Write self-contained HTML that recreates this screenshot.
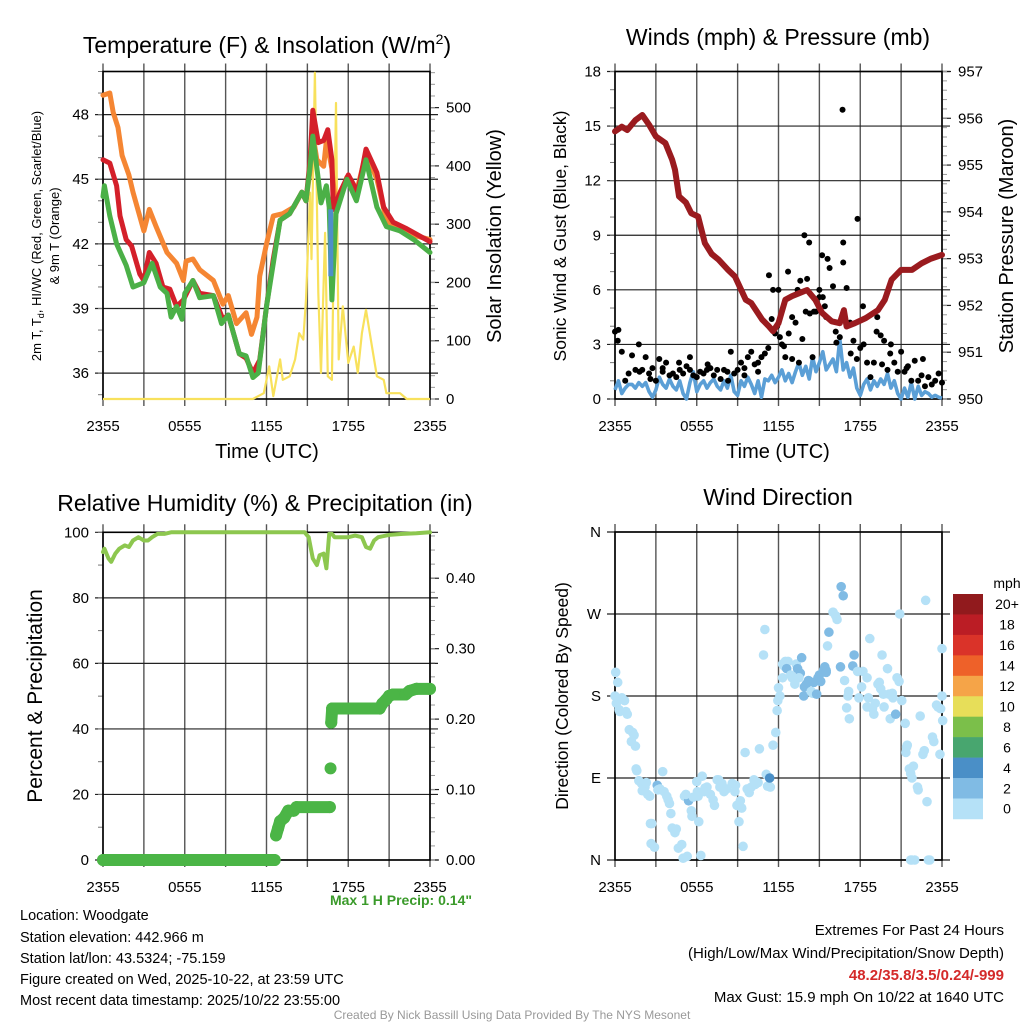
<!DOCTYPE html>
<html><head><meta charset="utf-8">
<style>
html,body{margin:0;padding:0;background:#fff;}
svg{display:block;font-family:"Liberation Sans",Arial,sans-serif;}
</style></head>
<body>
<svg id="chart" width="1024" height="1024" viewBox="0 0 1024 1024" xmlns="http://www.w3.org/2000/svg">
<rect width="1024" height="1024" fill="#fff"/>
<g id="g1"></g>
<g id="g2"></g>
<g id="g3"></g>
<g id="g4"></g>

<text x="267" y="53" font-size="23" text-anchor="middle">Temperature (F) &amp; Insolation (W/m<tspan font-size="14" dy="-9">2</tspan><tspan dy="9">)</tspan></text>
<text x="778" y="45" font-size="23" text-anchor="middle">Winds (mph) &amp; Pressure (mb)</text>
<text x="265" y="511" font-size="23" text-anchor="middle">Relative Humidity (%) &amp; Precipitation (in)</text>
<text x="778" y="505" font-size="23" text-anchor="middle">Wind Direction</text>

<text transform="translate(41,236) rotate(-90)" font-size="13" text-anchor="middle">2m T, T<tspan font-size="9" dy="3">d</tspan><tspan dy="-3">, HI/WC (Red, Green, Scarlet/Blue)</tspan></text>
<text transform="translate(59,236) rotate(-90)" font-size="13" text-anchor="middle">&amp; 9m T (Orange)</text>
<text transform="translate(501,236) rotate(-90)" font-size="20" text-anchor="middle">Solar Insolation (Yellow)</text>
<text transform="translate(566,236) rotate(-90)" font-size="17.5" text-anchor="middle">Sonic Wind &amp; Gust (Blue, Black)</text>
<text transform="translate(1013,236) rotate(-90)" font-size="20" text-anchor="middle">Station Pressure (Maroon)</text>
<text transform="translate(42,696) rotate(-90)" font-size="21" text-anchor="middle">Percent &amp; Precipitation</text>
<text transform="translate(568,696) rotate(-90)" font-size="17.5" text-anchor="middle">Direction (Colored By Speed)</text>
<text x="267" y="458" font-size="20" text-anchor="middle">Time (UTC)</text>
<text x="778" y="458" font-size="20" text-anchor="middle">Time (UTC)</text>

<text x="472" y="905" font-size="14" font-weight="bold" fill="#3a9a2a" text-anchor="end">Max 1 H Precip: 0.14"</text>
<g font-size="14.5">
<text x="20" y="920">Location: Woodgate</text>
<text x="20" y="942">Station elevation: 442.966 m</text>
<text x="20" y="963">Station lat/lon: 43.5324; -75.159</text>
<text x="20" y="984">Figure created on Wed, 2025-10-22, at 23:59 UTC</text>
<text x="20" y="1005">Most recent data timestamp: 2025/10/22 23:55:00</text>
</g>
<g font-size="15" text-anchor="end">
<text x="1004" y="935">Extremes For Past 24 Hours</text>
<text x="1004" y="958">(High/Low/Max Wind/Precipitation/Snow Depth)</text>
<text x="1004" y="980" fill="#d42a2a" font-weight="bold">48.2/35.8/3.5/0.24/-999</text>
<text x="1004" y="1002">Max Gust: 15.9 mph On 10/22 at 1640 UTC</text>
</g>
<text x="512" y="1019" font-size="12" fill="#999" text-anchor="middle">Created By Nick Bassill Using Data Provided By The NYS Mesonet</text>
</svg>
<script>
// ---------- DATA ----------
const timeTickLabels = ["2355","0555","1155","1755","2355"];
const timeTickHours = [0,6,12,18,24];

const orangeT = [0,0.5,0.75,1.1,1.4,1.9,2.2,3,3.4,3.9,4.7,5.4,5.9,6.1,6.6,7.1,8.1,8.8,9.2,9.8,10.5,10.9,11.3,11.5,12,12.5,13.2,14,14.6,14.9,15.2,15.4,15.7,16.2,16.4,16.8,17.1,17.9,18.6,19.3,20.1,20.8,21.8,22.8,24];
const orangeV = [48.9,49.0,48.1,47.4,46.1,45.2,44.4,42.6,43.6,42.8,41.6,41.1,40.3,41.2,41.3,40.8,40.3,39.2,39.6,38.3,38.8,37.8,38.6,40.5,42.0,43.3,43.4,43.7,44.4,44.0,45.4,47.1,45.9,45.6,46.8,45.5,43.6,45.1,44.4,46.2,45.0,43.1,42.6,42.4,42.2];
const redT = [0,0.5,1,1.25,1.7,2.1,2.7,3,3.4,3.9,4.4,4.9,5.4,5.9,6.6,7.1,8.1,8.8,9.2,10,10.5,11,11.5,12,12.5,13,13.7,14.6,14.9,15.2,15.4,15.8,16.2,16.5,16.8,16.9,17.4,18,18.7,19.3,20.1,20.6,21.3,22.3,24];
const redV = [45.9,45.75,44.7,43.3,42.2,41.9,40.6,40.3,41.6,41.1,40.0,39.9,39.1,39.4,40.3,39.7,39.6,38.5,38.7,36.9,36.7,36.0,36.6,39.1,41.3,43.1,43.4,44.4,44.0,45.9,48.2,46.7,46.8,47.3,45.9,43.6,44.4,45.2,44.4,46.4,45.3,43.7,43.0,42.7,42.1];
const greenT = [0,0.1,0.5,1,1.7,2.2,3,3.6,4.2,4.7,5,5.4,5.8,6,6.6,7.1,8.1,8.7,9.2,10,10.5,11,11.4,12,12.5,13,13.7,14.6,14.9,15.2,15.4,15.8,16,16.4,16.6,16.8,17.1,17.9,18.6,19.3,20.1,20.8,21.8,22.8,24];
const greenV = [44.2,44.7,43.3,42.0,41.0,40.0,40.2,41.1,40.0,39.7,38.6,39.1,38.5,39.7,40.3,39.5,39.6,38.3,38.7,36.9,36.8,35.8,36.0,39.1,41.1,43.1,43.4,44.4,44.0,45.6,47.0,45.0,43.9,44.7,43.7,39.4,43.4,45.0,44.0,45.9,43.7,42.8,42.6,42.2,41.6];
const chillT = [16.72,16.72];
const chillV = [43.6,40.5];
const solarT = [0,11,11.8,12.2,12.5,13,13.2,13.7,14.1,14.4,14.7,14.9,15.2,15.3,15.55,15.8,16,16.3,16.5,16.8,17.1,17.3,17.6,18,18.4,18.7,19,19.3,19.7,20.1,20.6,20.8,21.8,22.3,24];
const solarV = [0,0,10,56,5,68,33,39,68,113,102,171,354,240,560,182,45,285,39,33,508,68,159,62,90,45,113,153,96,39,33,10,10,0,0];

const pressT = [0,0.5,0.9,1.5,2,2.5,3,3.7,4.2,4.4,4.7,5.2,5.6,6.1,6.6,7.1,7.6,8.3,8.8,9.6,10,10.8,11.3,11.6,12,12.5,13,13.5,14.1,14.7,15.2,15.9,16.5,16.8,17,17.6,18.4,19.3,19.8,20.3,21,21.8,22.5,23.2,24];
const pressV = [955.72,955.82,955.75,955.96,956.07,955.86,955.61,955.47,955.11,954.9,954.33,954.2,953.97,953.9,953.33,953.1,952.98,952.76,952.62,952.12,952.05,951.7,951.55,951.45,951.62,952.12,952.2,952.26,952.33,952.12,951.84,951.66,951.62,951.9,951.55,951.62,951.73,951.9,952.12,952.55,952.76,952.76,952.9,953.0,953.08];
const windV = [0.5,1.0,0.3,0.6, 0.8,0.8,0.6,0.9, 0.7,0.9,0.4,0.1, 0.5,1.2,0.8,0.6, 1.1,0.7,0.5,1.0, 0.3,0.0,0.9,1.5, 0.4,0.8,1.0,0.6, 0.9,1.1,0.7,0.5, 1.0,0.6,1.3,0.4, 0.2,1.0,0.7,1.2, 0.8,0.3,1.0,0.1, 1.1,1.0,1.3,0.9, 1.2,1.6,1.0,1.4, 0.9,1.5,2.0,1.3, 1.8,1.1,2.3,1.5, 2.0,2.6,1.6,1.9, 2.2,1.5,3.3,1.6, 2.0,1.2,1.7,0.6, 0.2,0.8,1.1,0.5, 1.0,0.7,1.1,0.8, 1.4,0.6,1.0,0.3, 0.0,0.6,0.1,0.9, 0.0,0.7,0.2,0.4, 0.3,0.1,0.2,0.1, 0.05];
const gustV = [3.7,3.8,2.6,1.0, 1.4,2.4,1.6,3.0, 1.6,2.3,1.4,1.7, 1.0,2.2,1.5,2.0, 1.3,1.4,1.2,1.6, 1.4,1.8,2.3,1.3, 1.2,1.5,1.4,1.6, 1.7,1.3,1.6,1.1, 1.6,1.5,2.6,1.4, 1.6,2.0,1.3,2.3, 2.6,1.9,2.0,2.3, 2.5,2.8,4.4,3.6, 6.0,3.0,2.3,3.6, 4.5,4.2,2.0,3.3, 4.8,8.6,2.3,4.8, 6.0,5.6,4.5,7.2, 6.2,3.1,3.4,7.5, 6.1,4.2,3.2,2.2, 2.8,3.0,2.0,1.2, 2.0,4.5,3.5,3.2, 1.6,3.0,2.0,1.5, 2.6,1.5,1.8,1.0, 2.1,1.0,1.3,0.7, 1.2,0.8,1.0,1.4, 0.9];
const gustExtraT = [11.3,11.6,12.7,13.6,14.1,13.9,14.3,15.2,15.6,16.7,17.8,16.75,15.0,13.4,12.1,11.9,19.2,20.2,0.2,1.8,3.5,5.5,8.3,9.5,10.5,15.4,16.2,18.2,17.3,19.6,22.6,21.4,12.4,14.6,13.0,6.8,4.7,2.6];
const gustExtraV = [6.8,6.0,7.0,6.5,6.6,9.0,4.7,7.9,7.7,15.9,9.9,8.6,5.6,6.0,3.4,4.0,3.7,2.5,3.2,1.5,1.7,1.6,1.0,1.7,1.5,5.1,3.7,5.1,2.5,1.9,2.2,1.7,2.9,4.8,2.2,1.9,2.0,1.1];

const rhT = [0,0.1,0.4,0.6,0.9,1.2,1.6,1.9,2.2,2.6,3,3.3,3.6,4,4.5,5,6,8,10,12,14,14.8,15.1,15.4,15.7,15.9,16.2,16.4,16.6,16.8,17.0,17.5,18,18.5,19,19.3,19.6,19.9,20.2,21,22,23,24];
const rhV = [94,95,92,91,93.5,95,96,95.5,97.5,98.5,97.5,97.5,98.5,99.5,99.5,100,100,100,100,100,100,100,98.5,92,90,93,93.5,89,99.5,99.5,98.5,98.5,98.5,99,98.5,95.5,95,97.5,98.5,99.2,99.5,99.7,100];
const precipT = [0,12.6,12.7,12.85,13,13.3,13.6,14,14.2,16.65,16.7,16.75,16.82,17,18,19,20,20.3,20.5,20.8,21,21.3,22.2,22.5,23,24];
const precipV = [0,0,0.035,0.045,0.055,0.06,0.07,0.07,0.075,0.075,0.13,0.195,0.215,0.215,0.215,0.215,0.215,0.215,0.222,0.228,0.233,0.235,0.235,0.24,0.243,0.243];

const dirT = [0,0.05,0.2,0.1,0.3,0.35,0.5,0.7,0.9,0.8,1.05,1.3,1.2,1.4,1.5,1.55,1.6,1.75,1.95,2.0,2.2,2.4,2.3,2.55,2.6,2.7,2.65,2.9,3.1,3.3,3.15,3.5,3.6,3.8,3.9,4.0,4.1,4.2,4.4,4.5,4.65,4.9,5.0,5.3,5.1,5.4,5.2,5.6,5.75,6.05,6.15,5.65,6.3,6.0,6.1,6.4,6.6,6.75,6.55,7.0,7.2,7.3,7.5,7.7,7.6,7.85,8.0,8.2,8.6,8.8,8.85,8.95,9.1,9.2,9.3,9.4,9.55,9.7,9.85,10.0,10.2,10.3,10.5,10.6,10.9,11.0,11.1,11.2,11.4,11.35,11.6,11.8,11.9,11.95,12.1,12.0,12.3,12.3,12.5,12.7,12.4,12.6,12.9,13.0,13.2,13.3,13.4,13.6,13.5,13.7,13.85,13.9,14.05,14.2,14.4,14.5,14.6,14.8,14.9,15.0,15.1,15.3,15.5,15.4,15.6,15.7,15.5,16.0,16.2,16.3,16.55,16.6,16.75,16.85,17.0,17.1,17.2,17.15,17.45,17.55,17.8,17.9,18.1,18.2,18.5,18.6,18.7,18.5,18.9,19.0,19.1,19.3,19.4,19.5,19.7,19.75,19.6,20.0,20.1,20.2,20.35,20.4,20.6,20.7,20.85,20.9,21.05,21.3,21.35,21.45,21.4,21.6,21.8,21.7,21.9,22.2,22.25,22.0,21.7,21.8,22.4,22.6,22.7,22.8,22.9,23.0,23.1,23.3,23.4,23.6,23.7,23.9,24.0,24.05,24.0,23.85];
const dirV = [180,206,195,172,165,163,178,175,160,163,143,140,130,137,125,100,98,87,84,76,80,72,85,70,40,40,18,14,82,78,77,97,75,70,66,62,51,35,30,34,13,17,2,4,70,65,72,54,69,75,42,48,5,86,70,92,79,80,75,72,66,60,88,80,88,84,75,78,84,75,82,60,42,65,57,15,118,78,74,80,88,83,85,122,225,253,94,81,80,90,126,140,164,175,180,189,200,215,218,218,213,210,203,200,193,215,210,205,200,222,180,190,193,197,185,183,195,182,200,203,196,208,208,212,235,250,206,272,268,264,212,300,290,197,167,180,155,185,213,225,207,178,190,207,200,178,243,168,166,160,172,193,195,188,182,168,225,210,182,155,183,178,160,200,196,270,175,150,118,126,124,100,90,95,103,80,77,0,0,0,158,116,120,285,64,0,0,135,130,170,168,166,180,153,232,116];
const dirSpeed = [0,0,0,0,0,0,0,0,0,0,0,0,0,0,0,0,0,0,0,0,0,0,0,0,0,0,0,0,2,0,0,0,0,0,0,0,0,0,0,0,0,0,0,0,0,2,0,0,0,0,0,0,0,0,0,0,0,0,0,0,0,0,0,0,0,0,0,0,0,0,0,0,0,0,0,0,0,0,0,0,0,0,0,0,0,0,0,0,0,4,0,0,0,0,0,0,0,0,0,0,0,2,0,0,0,0,2,2,0,2,2,2,2,2,0,0,2,2,2,2,2,2,2,2,0,2,2,0,0,0,2,2,2,0,0,0,0,0,2,2,0,0,0,0,0,0,0,0,0,0,0,0,0,0,0,0,0,0,0,0,0,0,2,0,0,0,0,0,0,0,0,0,0,0,0,0,0,0,0,0,0,0,0,0,0,0,0,0,0,0,0,0,0,0,0,0,0,0,0,0];
const speedLabels = ["20+","18","16","14","12","10","8","6","4","2","0"];
const speedColors = ["#911a1d","#bb1d25","#da3329","#ee6129","#f5a448","#e7de59","#7bbf4a","#48a66f","#4a8fc7","#80bbe4","#b5e1f7"];

// ---------- HELPERS ----------
const NS = "http://www.w3.org/2000/svg";
function mk(parent, tag, attrs){const e=document.createElementNS(NS,tag);for(const k in attrs)e.setAttribute(k,attrs[k]);parent.appendChild(e);return e;}
function linScale(d0,d1,r0,r1){return v=>r0+(v-d0)/(d1-d0)*(r1-r0);}

function frame(g, P, leftTicks, leftLabels, leftMinor, rightTicks, rightLabels, rightMinor, sy, sy2, hGrid){
  const xs = linScale(0,24,P.x0,P.x1);
  for(let h=0;h<=24;h+=3){
    const l=mk(g,'line',{x1:xs(h),x2:xs(h),y1:P.y0-8,y2:P.y1+7,stroke:'#555','stroke-width':1.4});
    
    
  }
  leftTicks.forEach((v,i)=>{
    const y=sy(v);
    if(hGrid){const l=mk(g,'line',{x1:P.x0-8,x2:P.x1+8,y1:y,y2:y,stroke:'#222','stroke-width':1.2});
      
      }
    const t=mk(g,'text',{x:P.x0-14,y:y+5,'font-size':P.fs||15,'text-anchor':'end'});
    t.textContent=leftLabels[i];
    
    
  });
  leftMinor.forEach(v=>{const y=sy(v);mk(g,'line',{x1:P.x0-5,x2:P.x0,y1:y,y2:y,stroke:'#777','stroke-width':1});});
  if(rightTicks){
    rightTicks.forEach((v,i)=>{
      const y=sy2(v);
      mk(g,'line',{x1:P.x1,x2:P.x1+9,y1:y,y2:y,stroke:'#222','stroke-width':1.2});
      const t=mk(g,'text',{x:P.x1+16,y:y+5,'font-size':15,'text-anchor':'start'});
      t.textContent=rightLabels[i];
      
      
    });
    rightMinor.forEach(v=>{const y=sy2(v);mk(g,'line',{x1:P.x1,x2:P.x1+5,y1:y,y2:y,stroke:'#999','stroke-width':1});});
  }
  const b=mk(g,'rect',{x:P.x0,y:P.y0,width:P.x1-P.x0,height:P.y1-P.y0,fill:'none',stroke:'#000','stroke-width':1.6});
  
  
  timeTickHours.forEach((h,i)=>{
    const t=mk(g,'text',{x:xs(h),y:P.y1+32,'font-size':15,'text-anchor':'middle'});
    t.textContent=timeTickLabels[i];
    
    
  });
  return xs;
}
function pathFrom(T,V,xs,ys){return T.map((t,i)=>(i?'L':'M')+xs(t).toFixed(1)+','+ys(V[i]).toFixed(1)).join(' ');}
function range(a,b,s){const r=[];for(let v=a;v<=b+1e-9;v+=s)r.push(+v.toFixed(4));return r;}

// ---------- PANEL 1 ----------
(function(){
  const g=document.getElementById('g1');
  const P={x0:103,x1:430,y0:71.5,y1:399};
  const sy=linScale(34.8,50.0,P.y1,P.y0), sy2=linScale(0,562,P.y1,P.y0);
  const xs=frame(g,P,[36,39,42,45,48],["36","39","42","45","48"],range(35,50,1),[0,100,200,300,400,500],["0","100","200","300","400","500"],range(0,560,20),sy,sy2,true);
  const s=mk(g,'path',{d:pathFrom(solarT,solarV,xs,sy2),fill:'none',stroke:'#f8e15c','stroke-width':2.2,'stroke-linejoin':'round'});
  
  
  const o=mk(g,'path',{d:pathFrom(orangeT,orangeV,xs,sy),fill:'none',stroke:'#f58633','stroke-width':5,'stroke-linejoin':'round','stroke-linecap':'round'});
  
  
  const r=mk(g,'path',{d:pathFrom(redT,redV,xs,sy),fill:'none',stroke:'#d4202a','stroke-width':5,'stroke-linejoin':'round','stroke-linecap':'round'});
  
  
  const gr=mk(g,'path',{d:pathFrom(greenT,greenV,xs,sy),fill:'none',stroke:'#4bb047','stroke-width':5,'stroke-linejoin':'round','stroke-linecap':'round'});
  
  
  const c=mk(g,'path',{d:pathFrom(chillT,chillV,xs,sy),fill:'none',stroke:'#4f8fc8','stroke-width':5});
  
  
})();

// ---------- PANEL 2 ----------
(function(){
  const g=document.getElementById('g2');
  const P={x0:615,x1:942,y0:71.5,y1:399};
  const sy=linScale(0,18,P.y1,P.y0), sy2=linScale(950,957,P.y1,P.y0);
  const xs=frame(g,P,[0,3,6,9,12,15,18],["0","3","6","9","12","15","18"],range(0,18,1),[950,951,952,953,954,955,956,957],["950","951","952","953","954","955","956","957"],range(950,957,0.2),sy,sy2,true);
  const wt=windV.map((v,i)=>i*0.25);
  const w=mk(g,'path',{d:pathFrom(wt,windV,xs,sy),fill:'none',stroke:'#5b9fd6','stroke-width':3.6,'stroke-linejoin':'round'});
  
  
  const gt=gustV.map((v,i)=>i*0.25);
  gustV.forEach((v,i)=>{
    const d=mk(g,'circle',{cx:xs(gt[i]),cy:sy(v),r:3,fill:'#000'});
    
    
  });
  gustExtraV.forEach((v,i)=>{
    const d=mk(g,'circle',{cx:xs(gustExtraT[i]),cy:sy(v),r:3,fill:'#000'});
    
    
  });
  const p=mk(g,'path',{d:pathFrom(pressT,pressV,xs,sy2),fill:'none',stroke:'#9a1b1f','stroke-width':6,'stroke-linejoin':'round','stroke-linecap':'round'});
  
  
})();

// ---------- PANEL 3 ----------
(function(){
  const g=document.getElementById('g3');
  const P={x0:103,x1:430,y0:532.3,y1:860};
  const sy=linScale(0,100,P.y1,P.y0), sy2=linScale(0,0.4652,P.y1,P.y0);
  const xs=frame(g,P,[0,20,40,60,80,100],["0","20","40","60","80","100"],range(0,100,10),[0,0.1,0.2,0.3,0.4],["0.00","0.10","0.20","0.30","0.40"],range(0,0.46,0.02),sy,sy2,true);
  const rh=mk(g,'path',{d:pathFrom(rhT,rhV,xs,sy),fill:'none',stroke:'#8dc74f','stroke-width':4,'stroke-linejoin':'round','stroke-linecap':'round'});
  
  
  for(let i=1;i<precipT.length;i++){
    if(Math.abs(precipV[i]-precipV[i-1])<0.02){
      mk(g,'line',{x1:xs(precipT[i-1]),y1:sy2(precipV[i-1]),x2:xs(precipT[i]),y2:sy2(precipV[i]),stroke:'#4bb546','stroke-width':12,'stroke-linecap':'round'});
    }
  }
  precipV.forEach((v,i)=>{
    const d=mk(g,'circle',{cx:xs(precipT[i]),cy:sy2(v),r:6,fill:'#4bb546'});
    
    
  });
})();

// ---------- PANEL 4 ----------
(function(){
  const g=document.getElementById('g4');
  const P={x0:615,x1:942,y0:532,y1:860,fs:15};
  const sy=linScale(0,360,P.y1,P.y0);
  const xs=frame(g,P,[0,90,180,270,360],["N","E","S","W","N"],[],null,null,null,sy,null,true);
  const colorFor={0:"#b5e1f7",2:"#80bbe4",4:"#4a8fc7"};
  dirV.forEach((v,i)=>{
    const d=mk(g,'circle',{cx:xs(dirT[i]),cy:sy(v),r:4.8,fill:colorFor[dirSpeed[i]]});
    
    
  });
  const cb=mk(g,'g',{});
  
  
  const t=mk(cb,'text',{x:1007,y:588,'font-size':14,'text-anchor':'middle'});t.textContent='mph';
  const h=20.45;
  speedLabels.forEach((lab,i)=>{
    const y0=594+i*h;
    const r=mk(cb,'rect',{x:953,y:y0,width:30,height:h+0.3,fill:speedColors[i]});
    
    
    const tx=mk(cb,'text',{x:1007,y:y0+h/2+5,'font-size':14,'text-anchor':'middle'});
    tx.textContent=lab;
    
    
  });
})();
</script>
</body></html>
